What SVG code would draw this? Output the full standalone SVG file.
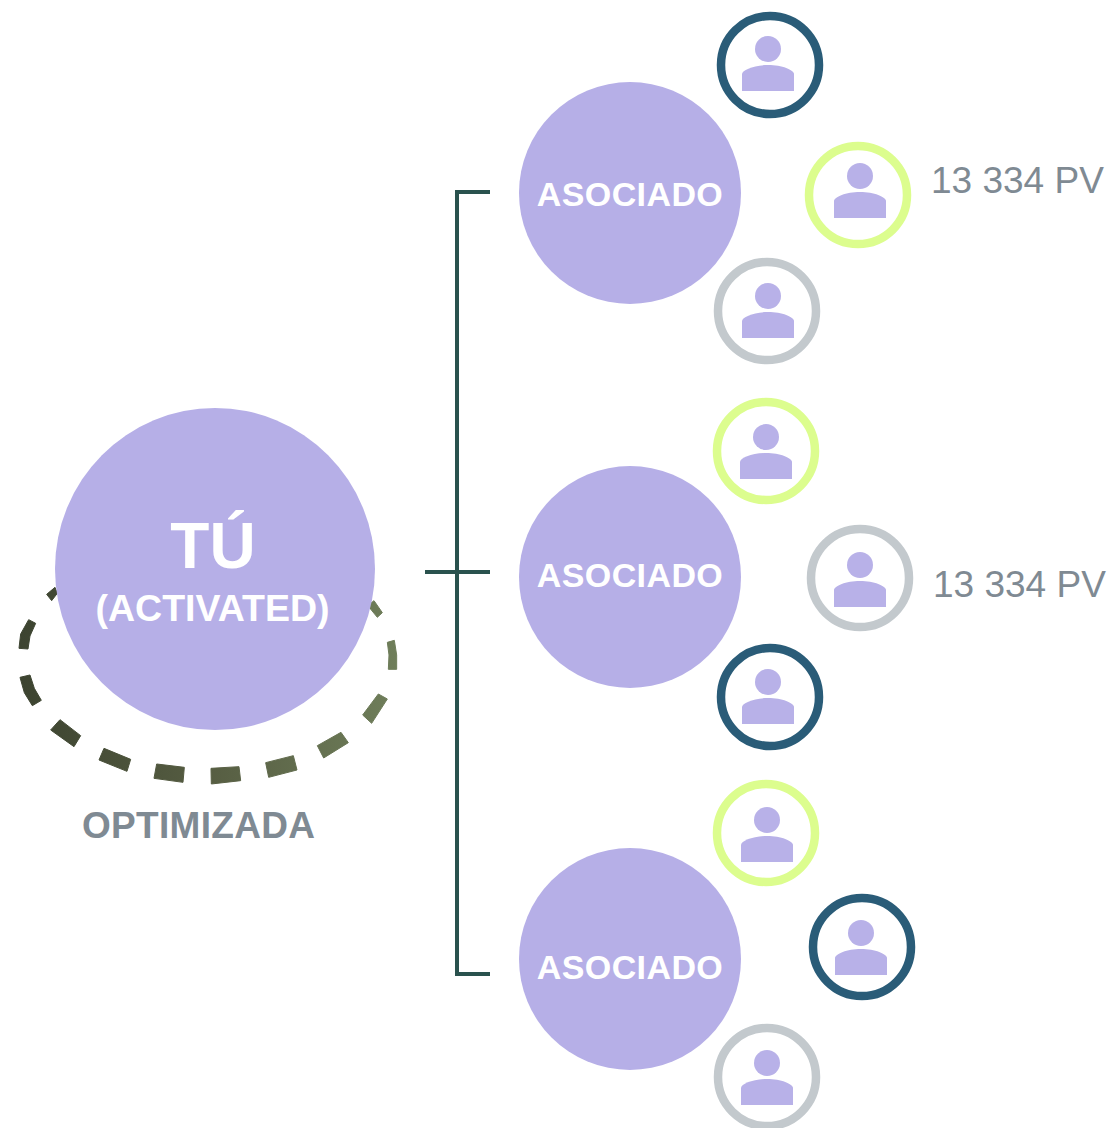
<svg xmlns="http://www.w3.org/2000/svg" width="1115" height="1128" viewBox="0 0 1115 1128">
<style>
.big{fill:#b6afe7}
.ring{fill:#fff;stroke-width:8.500}
.navy{stroke:#2a5c78}.lime{stroke:#dcfd8e}.gray{stroke:#c3c9cd}
.t{font-family:"Liberation Sans",Arial,sans-serif}
.w{fill:#fff;font-weight:700;text-anchor:middle}
.pv{fill:#7f8a93;font-size:37px}
.lbl{font-size:34px;letter-spacing:.4px}
.conn{fill:none;stroke:#2a524e;stroke-width:4}
</style>
<defs>
<linearGradient id="dash" gradientUnits="userSpaceOnUse" x1="57" y1="0" x2="1190" y2="0"><stop offset="0" stop-color="#3c4330"/><stop offset=".5" stop-color="#565d42"/><stop offset="1" stop-color="#6f7e5a"/></linearGradient>
<g id="person" fill="#b8b1e8"><circle cx="0" cy="0" r="13"/><path d="M-26 42V25C-26 21-14 16 0 16S26 21 26 25V42Z"/></g>
</defs>
<g id="optimizada-ring" fill="url(#dash)" stroke="url(#dash)" stroke-width="3">
<g transform="translate(0 560) scale(.33333)">
<polygon points="140,103 165,82 172,100 155,122"/>
<polygon points="86,179 107,190 90,228 84,267 57,265 62,222"/>
<polygon points="60,352 90,345 103,385 124,421 97,437 73,398"/>
<polygon points="180,479 242,527 222,560 152,510"/>
<polygon points="312,565 392,598 381,634 297,600"/>
<polygon points="470,612 553,622 549,667 462,655"/>
<polygon points="633,625 717,620 722,662 634,672"/>
<polygon points="797,608 880,587 891,630 806,652"/>
<polygon points="952,557 1023,517 1045,548 971,594"/>
<polygon points="1088,465 1135,402 1162,417 1115,490"/>
<polygon points="1162,247 1183,241 1190,285 1190,328 1165,328 1167,285"/>
<polygon points="1112,130 1122,122 1147,158 1132,172 1110,145"/>
</g>
</g>
<g id="tu">
<ellipse class="big" cx="215" cy="569" rx="160" ry="161"/>
<text class="t w" x="213" y="568" font-size="64">TÚ</text>
<text class="t w" x="212.500" y="621" font-size="37.500">(ACTIVATED)</text>
</g>
<text id="optimizada" class="t" x="82" y="838" font-size="37" font-weight="700" fill="#7f8a93" letter-spacing=".3">OPTIMIZADA</text>
<g id="connectors" class="conn">
<path d="M490 192H457V974H490"/>
<path d="M425 572H490"/>
</g>
<g id="asociado-1"><circle class="big" cx="630" cy="193" r="111"/><text class="t w lbl" x="630" y="206">ASOCIADO</text></g>
<g id="asociado-2"><circle class="big" cx="630" cy="577" r="111"/><text class="t w lbl" x="630" y="587">ASOCIADO</text></g>
<g id="asociado-3"><circle class="big" cx="630" cy="959" r="111"/><text class="t w lbl" x="630" y="979">ASOCIADO</text></g>
<g id="p1"><circle class="ring navy" cx="770" cy="65" r="49"/><use href="#person" x="768" y="49"/></g>
<g id="p2"><circle class="ring lime" cx="858" cy="195" r="49"/><use href="#person" x="860" y="176"/></g>
<g id="p3"><circle class="ring gray" cx="767" cy="311" r="49"/><use href="#person" x="768" y="296"/></g>
<g id="p4"><circle class="ring lime" cx="766" cy="451" r="49"/><use href="#person" x="766" y="437"/></g>
<g id="p5"><circle class="ring gray" cx="860" cy="578" r="49"/><use href="#person" x="860" y="565"/></g>
<g id="p6"><circle class="ring navy" cx="770" cy="697" r="49"/><use href="#person" x="768" y="682"/></g>
<g id="p7"><circle class="ring lime" cx="766" cy="833" r="49"/><use href="#person" x="767" y="820"/></g>
<g id="p8"><circle class="ring navy" cx="862" cy="947" r="49"/><use href="#person" x="861" y="933"/></g>
<g id="p9"><circle class="ring gray" cx="767" cy="1077" r="49"/><use href="#person" x="767" y="1063"/></g>
<text class="t pv" x="931" y="193">13 334 PV</text>
<text class="t pv" x="933" y="597">13 334 PV</text>
</svg>
